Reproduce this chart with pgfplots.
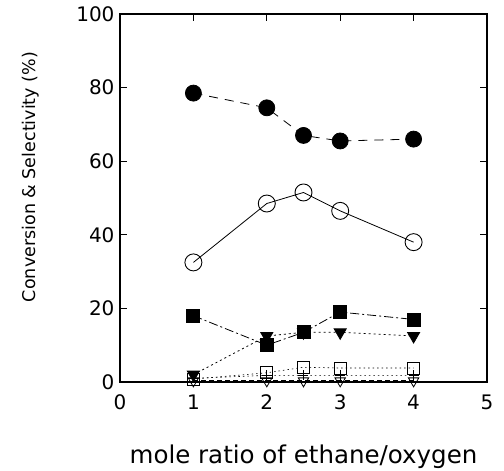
\documentclass[border=0pt]{standalone}
\usepackage{pgfplots}
\pgfplotsset{compat=1.18}
\usepackage{fontspec}
\setmainfont{DejaVu Sans}
\begin{document}
\begin{tikzpicture}[x=1pt,y=1pt]
\begin{axis}[
  at={(0,0)}, anchor=south west,
  scale only axis, width=367pt, height=368pt,
  xmin=0, xmax=5, ymin=0, ymax=100,
  xtick={0,1,2,3,4,5}, ytick={0,20,40,60,80,100},
  tick align=inside, major tick length=7pt,
  tick style={black, line width=0.7pt},
  axis line style={line width=1.2pt},
  /pgf/number format/assume math mode=true,
  ticklabel style={font=\fontsize{20}{20}\selectfont},
  xticklabel style={yshift=-9pt},
  yticklabel style={xshift=-2pt},
  xlabel={mole ratio of ethane/oxygen},
  ylabel={Conversion \& Selectivity (\%)},
  xlabel style={font=\fontsize{24.5}{24.5}\selectfont, yshift=-28pt},
  ylabel style={font=\fontsize{17.5}{17.5}\selectfont, yshift=30pt, xshift=21pt},
  clip=false,
]
% filled circles, dashed
\addplot[black, line width=0.8pt, dash pattern=on 9pt off 7pt, mark=*, mark size=8pt, mark options={solid, fill=black}]
 coordinates {(1,78.5) (2,74.5) (2.5,67) (3,65.5) (4,66)};
% open circles, solid
\addplot[black, line width=0.8pt, mark=o, mark size=8.5pt, mark options={solid, fill=white, line width=0.9pt}]
 coordinates {(1,32.5) (2,48.5) (2.5,51.5) (3,46.5) (4,38)};
% open triangles down, dashed near zero
\addplot[black, line width=0.8pt, dash pattern=on 5pt off 3pt, mark=triangle, mark size=6pt, mark options={solid, rotate=180, fill=white, line width=0.8pt}]
 coordinates {(1,0.3) (2,0.3) (2.5,0.3) (3,0.3) (4,0.3)};
% open squares, dotted
\addplot[black, line width=0.6pt, dash pattern=on 1.5pt off 3pt, mark=square, mark size=6pt, mark options={solid, fill=white, line width=0.9pt}]
 coordinates {(1,0.8) (2,2.5) (2.5,4) (3,3.8) (4,3.8)};
% plus marks
\addplot[black, line width=0.6pt, dash pattern=on 1.5pt off 3pt, mark=+, mark size=5pt, mark options={solid, line width=0.8pt}]
 coordinates {(1,1) (2,1.8) (2.5,1.8) (3,1.8) (4,1.8)};
% filled triangles down, dotted
\addplot[black, line width=0.8pt, dash pattern=on 2pt off 3pt, mark=triangle*, mark size=7pt, mark options={solid, rotate=180, fill=black}]
 coordinates {(1,2) (2,12.5) (2.5,13.5) (3,13.5) (4,12.5)};
% filled squares, dash-dot
\addplot[black, line width=0.8pt, dash pattern=on 9pt off 3pt on 2pt off 3pt, mark=square*, mark size=6.5pt, mark options={solid, fill=black}]
 coordinates {(1,18) (2,10) (2.5,13.5) (3,19) (4,17)};
\end{axis}
\pgfresetboundingbox
\useasboundingbox (-120,-89) rectangle (384,382);
\end{tikzpicture}
\end{document}
